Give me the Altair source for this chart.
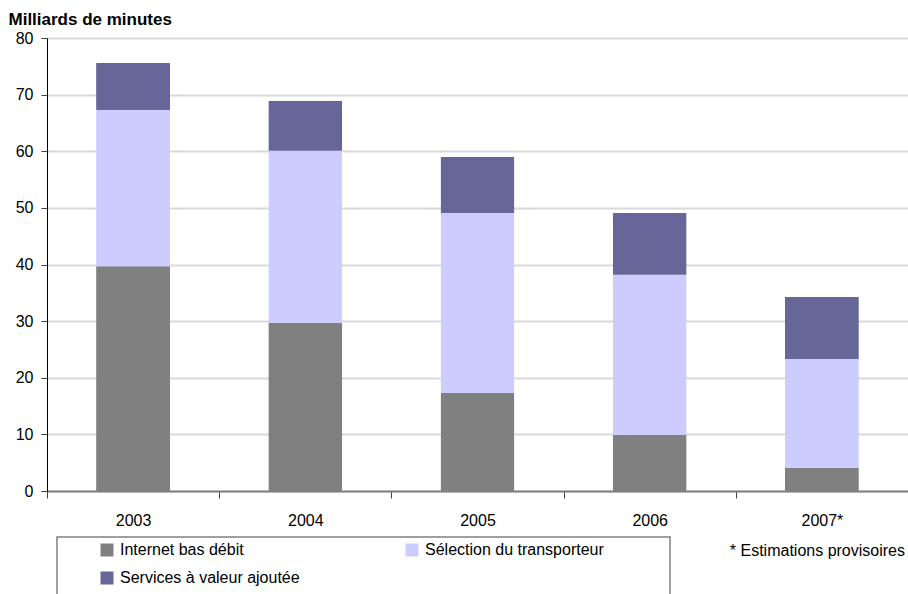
import altair as alt
import pandas as pd

years = ["2003", "2004", "2005", "2006", "2007*"]
series = ["Internet bas débit", "Sélection du transporteur", "Services à valeur ajoutée"]
internet = [39.7, 29.7, 17.3, 9.9, 4.1]
selection = [27.6, 30.4, 31.8, 28.3, 19.2]
services = [8.3, 8.8, 9.9, 10.9, 11.0]
colors = ["#808080", "#CCCCFF", "#666699"]
note = "* Estimations provisoires"

rows = []
for i, y in enumerate(years):
    for k, vals in enumerate([internet, selection, services]):
        rows.append({"annee": y, "serie": series[k], "valeur": vals[i], "ordre": k})
df = pd.DataFrame(rows)

FONT = "Liberation Sans"

bars = alt.Chart(df).mark_bar(width=74, cornerRadius=1).encode(
    x=alt.X("annee:N", sort=years, title=None,
            scale=alt.Scale(paddingInner=0, paddingOuter=0),
            axis=alt.Axis(labelAngle=0, tickBand="extent", tickSize=7, labelPadding=14,
                          domainColor="#808080", domainWidth=2, tickColor="#404040",
                          tickWidth=1, labelFontSize=16, labelColor="#000000",
                          labelFont=FONT, grid=False)),
    y=alt.Y("valeur:Q", stack="zero",
            scale=alt.Scale(domain=[0, 80], nice=False),
            axis=alt.Axis(values=[0, 10, 20, 30, 40, 50, 60, 70, 80], tickSize=6,
                          labelPadding=8, domainColor="#000000", domainWidth=1,
                          tickColor="#404040", labelFontSize=16, labelColor="#000000",
                          labelFont=FONT, gridColor="#d9d9d9", gridWidth=2,
                          title="Milliards de minutes", titleAngle=0, titleAlign="left",
                          titleBaseline="alphabetic", titleX=-39, titleY=-14,
                          titleFontSize=17, titleFontWeight="bold", titleFont=FONT,
                          titleColor="#000000")),
    color=alt.Color("serie:N",
                    scale=alt.Scale(domain=series, range=colors),
                    legend=alt.Legend(title=None, orient="none", legendX=52, legendY=504,
                                      direction="horizontal",
                                      columns=2, columnPadding=104, rowPadding=12,
                                      symbolType="square", symbolSize=169,
                                      symbolStrokeWidth=0, labelFontSize=16,
                                      labelFont=FONT, labelColor="#000000",
                                      labelOffset=5, padding=0, labelLimit=400)),
    order=alt.Order("ordre:Q", sort="ascending"),
)

box = alt.Chart(pd.DataFrame({"a": [0]})).mark_rect(
    fill="transparent", stroke="#808080", strokeWidth=1.5
).encode(x=alt.value(10), x2=alt.value(623), y=alt.value(499), y2=alt.value(640))

note_text = alt.Chart(pd.DataFrame({"t": [note]})).mark_text(
    align="right", baseline="middle", fontSize=16, font=FONT, color="#000000"
).encode(x=alt.value(858), y=alt.value(513), text="t:N")

chart = alt.layer(bars, box, note_text).properties(
    width=861, height=453,
    autosize=alt.AutoSizeParams(type="none"),
    padding={"left": 47, "top": 38, "right": 0, "bottom": 103},
).configure_view(stroke=None).configure(background="white")

chart.save("out.html", embed_options={"renderer": "svg", "actions": False})
